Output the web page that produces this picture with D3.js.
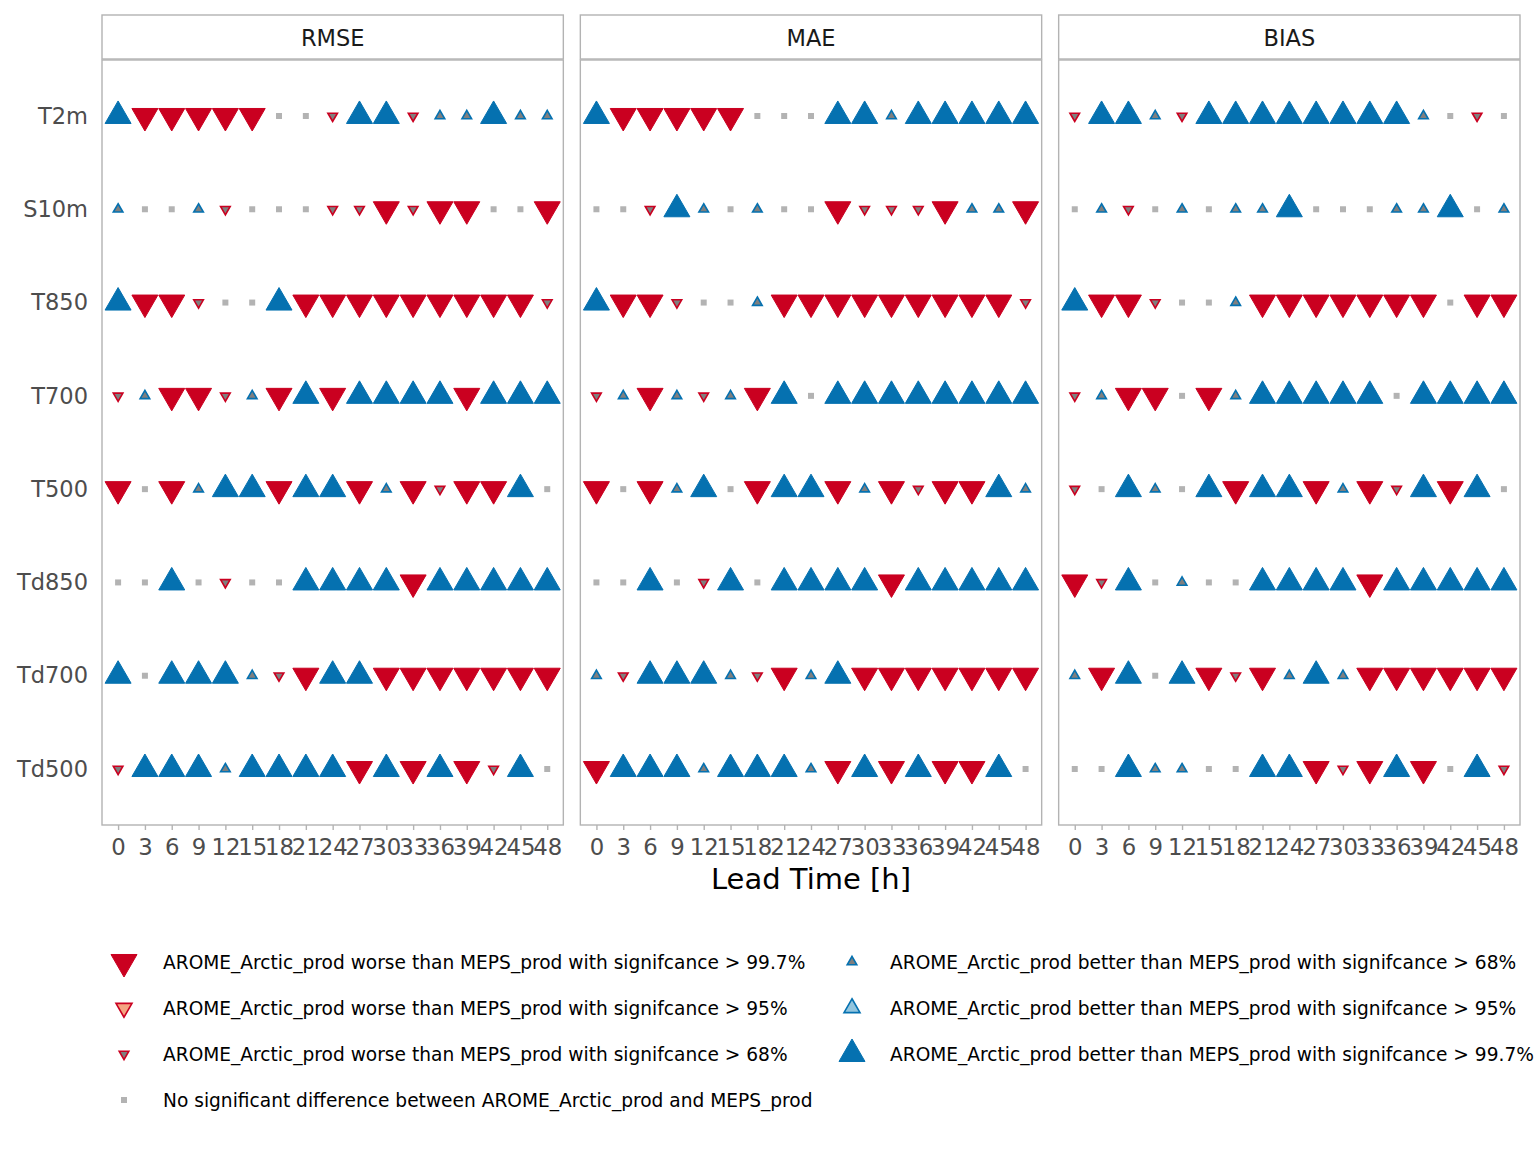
<!DOCTYPE html>
<html>
<head>
<meta charset="utf-8">
<script src="https://cdn.jsdelivr.net/npm/d3@7"></script>
<style>
  html, body { margin: 0; padding: 0; background: #ffffff; }
  svg { display: block; font-family: "DejaVu Sans", sans-serif; }
</style>
</head>
<body>
<svg id="chart" width="1536" height="1152"></svg>
<script>
// ---------------- data ----------------
const metrics = ["RMSE", "MAE", "BIAS"];
const params = ["T2m", "S10m", "T850", "T700", "T500", "Td850", "Td700", "Td500"];
const leadTimes = [0, 3, 6, 9, 12, 15, 18, 21, 24, 27, 30, 33, 36, 39, 42, 45, 48];

// codes: W3/W2/W1 = worse (>99.7 / >95 / >68 %), N = none, B1/B2/B3 = better
const rmseCodes = [
  ["B3","W3","W3","W3","W3","W3","N","N","W1","B3","B3","W1","B1","B1","B3","B1","B1"],
  ["B1","N","N","B1","W1","N","N","N","W1","W1","W3","W1","W3","W3","N","N","W3"],
  ["B3","W3","W3","W1","N","N","B3","W3","W3","W3","W3","W3","W3","W3","W3","W3","W1"],
  ["W1","B1","W3","W3","W1","B1","W3","B3","W3","B3","B3","B3","B3","W3","B3","B3","B3"],
  ["W3","N","W3","B1","B3","B3","W3","B3","B3","W3","B1","W3","W1","W3","W3","B3","N"],
  ["N","N","B3","N","W1","N","N","B3","B3","B3","B3","W3","B3","B3","B3","B3","B3"],
  ["B3","N","B3","B3","B3","B1","W1","W3","B3","B3","W3","W3","W3","W3","W3","W3","W3"],
  ["W1","B3","B3","B3","B1","B3","B3","B3","B3","W3","B3","W3","B3","W3","W1","B3","N"]
];
const maeCodes = [
  ["B3","W3","W3","W3","W3","W3","N","N","N","B3","B3","B1","B3","B3","B3","B3","B3"],
  ["N","N","W1","B3","B1","N","B1","N","N","W3","W1","W1","W1","W3","B1","B1","W3"],
  ["B3","W3","W3","W1","N","N","B1","W3","W3","W3","W3","W3","W3","W3","W3","W3","W1"],
  ["W1","B1","W3","B1","W1","B1","W3","B3","N","B3","B3","B3","B3","B3","B3","B3","B3"],
  ["W3","N","W3","B1","B3","N","W3","B3","B3","W3","B1","W3","W1","W3","W3","B3","B1"],
  ["N","N","B3","N","W1","B3","N","B3","B3","B3","B3","W3","B3","B3","B3","B3","B3"],
  ["B1","W1","B3","B3","B3","B1","W1","W3","B1","B3","W3","W3","W3","W3","W3","W3","W3"],
  ["W3","B3","B3","B3","B1","B3","B3","B3","B1","W3","B3","W3","B3","W3","W3","B3","N"]
];
const biasCodes = [
  ["W1","B3","B3","B1","W1","B3","B3","B3","B3","B3","B3","B3","B3","B1","N","W1","N"],
  ["N","B1","W1","N","B1","N","B1","B1","B3","N","N","N","B1","B1","B3","N","B1"],
  ["B3","W3","W3","W1","N","N","B1","W3","W3","W3","W3","W3","W3","W3","N","W3","W3"],
  ["W1","B1","W3","W3","N","W3","B1","B3","B3","B3","B3","B3","N","B3","B3","B3","B3"],
  ["W1","N","B3","B1","N","B3","W3","B3","B3","W3","B1","W3","W1","B3","W3","B3","N"],
  ["W3","W1","B3","N","B1","N","N","B3","B3","B3","B3","W3","B3","B3","B3","B3","B3"],
  ["B1","W3","B3","N","B3","W3","W1","W3","B1","B3","B1","W3","W3","W3","W3","W3","W3"],
  ["N","N","B3","B1","B1","N","N","B3","B3","W3","W1","W3","B3","W3","N","B3","W1"]
];
const metricCodes = [rmseCodes, maeCodes, biasCodes];

const legendCodes = ["W3", "W2", "W1", "N", "B1", "B2", "B3"];
const legendLabels = [
  "AROME_Arctic_prod worse than MEPS_prod with signifcance > 99.7%",
  "AROME_Arctic_prod worse than MEPS_prod with signifcance > 95%",
  "AROME_Arctic_prod worse than MEPS_prod with signifcance > 68%",
  "No significant difference between AROME_Arctic_prod and MEPS_prod",
  "AROME_Arctic_prod better than MEPS_prod with signifcance > 68%",
  "AROME_Arctic_prod better than MEPS_prod with signifcance > 95%",
  "AROME_Arctic_prod better than MEPS_prod with signifcance > 99.7%"
];
const xTitle = "Lead Time [h]";

// ---------------- styles ----------------
const RED = "#ca0020", BLUE = "#0571b0", GREY = "#b3b3b3";
const fillScale = d3.scaleOrdinal()
  .domain(["W3","W2","W1","N","B1","B2","B3"])
  .range([RED, "#f4a582", "#7f7f7f", GREY, "#7f7f7f", "#92c5de", BLUE]);
const strokeScale = d3.scaleOrdinal()
  .domain(["W3","W2","W1","N","B1","B2","B3"])
  .range([RED, RED, RED, GREY, BLUE, BLUE, BLUE]);
const sideScale = d3.scaleOrdinal()
  .domain(["W3","W2","W1","N","B1","B2","B3"])
  .range([26, 16, 9.6, 6, 9.6, 16, 26]);
const strokeWScale = d3.scaleOrdinal()
  .domain(["W3","W2","W1","N","B1","B2","B3"])
  .range([1, 1.6, 1.6, 0, 1.6, 1.6, 1]);

function symbolPath(code) {
  const s = sideScale(code);
  if (code === "N") return d3.symbol().type(d3.symbolSquare).size(s * s)();
  return d3.symbol().type(d3.symbolTriangle).size(Math.sqrt(3) / 4 * s * s)();
}
function symbolTransform(code, x, y) {
  return code[0] === "W" ? `translate(${x},${y}) rotate(180)` : `translate(${x},${y})`;
}

// ---------------- layout ----------------
const svg = d3.select("#chart");
const plotLeft = 102, plotRight = 1520;
const stripTop = 15, stripBottom = 59, panelTop = 60, panelBottom = 825;

const panelScale = d3.scaleBand().domain(metrics).range([plotLeft, plotRight])
  .paddingInner(17 / 478.33).paddingOuter(0);
const pw = panelScale.bandwidth();

const y = d3.scalePoint().domain(params).range([panelTop, panelBottom]).padding(0.6);

metrics.forEach((m, mi) => {
  const x0 = panelScale(m);
  const x = d3.scalePoint().domain(leadTimes).range([x0, x0 + pw]).padding(0.6);
  const g = svg.append("g");

  // strip
  g.append("rect").attr("x", x0).attr("y", stripTop).attr("width", pw).attr("height", stripBottom - stripTop)
    .attr("fill", "#ffffff").attr("stroke", GREY).attr("stroke-width", 1.4);
  g.append("text").attr("x", x0 + pw / 2).attr("y", (stripTop + stripBottom) / 2 + 1).attr("dy", "0.36em")
    .attr("text-anchor", "middle").attr("font-size", "22.5px").attr("fill", "#1a1a1a").text(m);

  // panel
  g.append("rect").attr("x", x0).attr("y", panelTop).attr("width", pw).attr("height", panelBottom - panelTop)
    .attr("fill", "#ffffff").attr("stroke", GREY).attr("stroke-width", 1.4);

  // x axis
  const xa = g.append("g").attr("transform", `translate(0,${panelBottom})`)
    .call(d3.axisBottom(x).tickSize(5).tickPadding(9));
  xa.select(".domain").remove();
  xa.selectAll(".tick line").attr("stroke", GREY).attr("stroke-width", 1.4);
  xa.selectAll(".tick text").attr("font-size", "22.8px").attr("fill", "#4d4d4d")
    .attr("font-family", "DejaVu Sans, sans-serif");

  // y axis (first panel only)
  if (mi === 0) {
    const ya = g.append("g").attr("transform", `translate(${x0},0)`)
      .call(d3.axisLeft(y).tickSize(0).tickPadding(14));
    ya.select(".domain").remove();
    ya.selectAll(".tick text").attr("font-size", "22.5px").attr("fill", "#4d4d4d")
      .attr("font-family", "DejaVu Sans, sans-serif");
  }

  // points
  const pts = [];
  metricCodes[mi].forEach((row, pi) => row.forEach((c, li) => pts.push({ p: params[pi], l: leadTimes[li], c })));
  g.selectAll("path.pt").data(pts).enter().append("path").attr("class", "pt")
    .attr("d", d => symbolPath(d.c))
    .attr("transform", d => symbolTransform(d.c, x(d.l), y(d.p)))
    .attr("fill", d => fillScale(d.c))
    .attr("stroke", d => strokeScale(d.c))
    .attr("stroke-width", d => strokeWScale(d.c))
    .attr("stroke-linejoin", "miter");
});

// x title
svg.append("text").attr("x", (plotLeft + plotRight) / 2).attr("y", 889)
  .attr("text-anchor", "middle").attr("font-size", "29px").attr("fill", "#000000").text(xTitle);

// legend
const legRowY = [962, 1008, 1054, 1100];
const leg = svg.append("g");
legendCodes.forEach((c, i) => {
  const col = i < 4 ? 0 : 1;
  const row = i < 4 ? i : i - 4;
  const sx = col === 0 ? 124 : 852;
  const tx = col === 0 ? 163 : 890;
  const yy = legRowY[row];
  leg.append("path").attr("d", symbolPath(c)).attr("transform", symbolTransform(c, sx, yy))
    .attr("fill", fillScale(c)).attr("stroke", strokeScale(c)).attr("stroke-width", strokeWScale(c));
  leg.append("text").attr("x", tx).attr("y", yy).attr("dy", "0.36em")
    .attr("font-size", "18.6px").attr("fill", "#000000").text(legendLabels[i]);
});
</script>
</body>
</html>
